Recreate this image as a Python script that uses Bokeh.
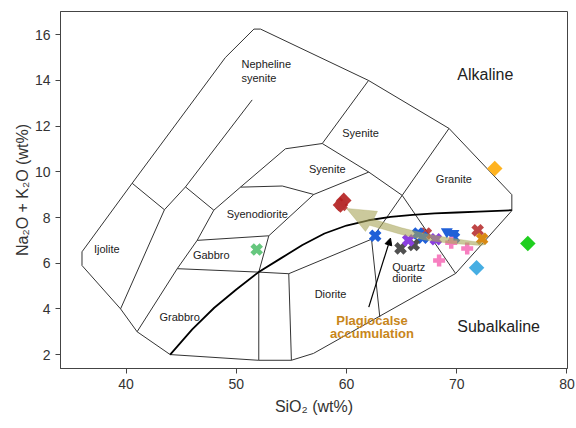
import numpy as np
from bokeh.plotting import figure
from bokeh.models import Range1d, Arrow, NormalHead, FixedTicker, Title
from bokeh.core.properties import value
from bokeh.embed import file_html
from bokeh.resources import INLINE

FONT = "Liberation Sans"

# ---- axes ----
x_ticks = [40, 50, 60, 70, 80]
y_ticks = [2, 4, 6, 8, 10, 12, 14, 16]

# ---- field boundaries (SiO2, Na2O+K2O) ----
outer_line = [(36.0, 6.5), (36.0, 5.9), (39.5, 4.0), (41.0, 3.0), (44.0, 2.0), (52.0, 1.75),
              (55.0, 1.75), (57.0, 2.05), (69.9, 5.55), (75.0, 8.3), (75.0, 9.0), (69.3, 11.9),
              (62.0, 14.0), (52.2, 16.25), (51.6, 16.25), (49.0, 15.0), (40.55, 9.5), (36.0, 6.5)]
ijolite_line = [(40.55, 9.5), (43.48, 8.34), (39.5, 4.0)]
band_line = [(51.44, 13.15), (45.39, 9.34), (43.48, 8.34)]
band_cross = [(45.39, 9.34), (47.96, 8.32)]
gabbro_left = [(54.46, 11.01), (50.38, 9.33), (47.96, 8.32), (46.45, 7.0), (44.64, 5.76), (41.0, 3.0)]
nesy_bottom = [(54.46, 11.01), (57.8, 11.24)]
syenite_line = [(62.0, 14.0), (57.8, 11.24), (62.02, 9.99), (65.05, 8.97), (69.9, 5.55)]
syenodiorite_top = [(50.38, 9.33), (54.17, 9.38), (57.03, 9.01), (62.02, 9.99)]
gabbro_top = [(57.03, 9.01), (52.95, 7.2), (46.45, 7.0)]
gabbro_right = [(52.95, 7.2), (52.04, 5.61), (52.04, 1.75)]
diorite_top = [(44.64, 5.76), (52.04, 5.61), (54.76, 5.54), (62.27, 7.05)]
granite_left = [(69.3, 11.9), (65.05, 8.97), (62.27, 7.05), (63.02, 3.64)]
diorite_left = [(54.76, 5.54), (55.0, 1.75)]

# alkaline / subalkaline divide
divide_x = [44.0, 46.0, 48.0, 50.0, 52.0, 54.0, 56.0, 58.0, 60.0, 62.0, 64.0, 66.0, 68.0, 70.0, 72.0, 75.0]
divide_y = [2.0, 3.1, 4.05, 4.85, 5.6, 6.2, 6.8, 7.3, 7.65, 7.88, 8.03, 8.12, 8.18, 8.22, 8.26, 8.32]

# ---- samples ----
red_dia_x = [59.75, 59.45]
red_dia_y = [8.75, 8.55]
red_x_x = [59.55, 67.2, 71.9]
red_x_y = [8.55, 7.3, 7.44]
blue_x_x = [62.6, 66.5, 66.9, 69.75]
blue_x_y = [7.2, 7.3, 7.12, 7.12]
grey_x_x = [64.9, 66.1]
grey_x_y = [6.65, 6.8]
purple_x_x = [65.6, 68.1]
purple_x_y = [7.0, 7.05]
blue_tri_x = [69.1, 69.7]
blue_tri_y = [7.38, 7.3]
pink_p_x = [68.4, 69.5, 70.95]
pink_p_y = [6.12, 6.9, 6.64]
orange_x_x = [72.3]
orange_x_y = [7.07]
green_x_x = [51.85]
green_x_y = [6.6]
orange_dia_x = [73.45]
orange_dia_y = [10.15]
green_dia_x = [76.45]
green_dia_y = [6.86]
lblue_dia_x = [71.8]
lblue_dia_y = [5.8]

# trend arrow outline
trend_x = [60.0, 62.81, 62.45, 64.99, 67.26, 69.53, 72.16, 72.61, 72.16, 69.35, 67.08, 64.81, 62.09, 61.72]
trend_y = [8.40, 8.27, 7.92, 7.55, 7.28, 7.09, 6.91, 6.82, 6.78, 6.87, 7.02, 7.28, 7.66, 7.39]

# field labels
field_text = ["Syenite", "Syenite", "Granite", "Syenodiorite", "Gabbro", "Ijolite", "Grabbro", "Diorite"]
field_x = [61.28, 58.25, 69.74, 51.9, 47.73, 38.25, 44.86, 58.55]
field_y = [11.68, 10.14, 9.67, 8.17, 6.37, 6.64, 3.64, 4.67]
left_text = ["Nepheline", "syenite", "Quartz", "diorite"]
left_x = [50.47, 50.47, 64.15, 64.15]
left_y = [14.7, 14.13, 5.83, 5.35]

p = figure(width=576, height=428, output_backend="svg", toolbar_location=None,
           x_range=Range1d(34.05, 80.05), y_range=Range1d(1.39, 17.02),
           min_border_left=60, min_border_right=9, min_border_top=11, min_border_bottom=60)
p.background_fill_color = "white"
p.border_fill_color = "white"
p.grid.visible = False
p.outline_line_color = "#444444"
p.outline_line_width = 1

for ax in (p.xaxis[0], p.yaxis[0]):
    ax.axis_line_color = "#444444"
    ax.major_tick_line_color = "#444444"
    ax.major_tick_out = 5
    ax.major_tick_in = 0
    ax.minor_tick_line_color = None
    ax.major_label_text_font = FONT
    ax.major_label_text_font_size = "14px"
    ax.major_label_text_color = "#333333"
p.xaxis.ticker = FixedTicker(ticks=x_ticks)
p.yaxis.ticker = FixedTicker(ticks=y_ticks)
p.xaxis.axis_label = "SiO\u2082 (wt%)"
p.xaxis.axis_label_text_font = FONT
p.xaxis.axis_label_text_font_size = "16px"
p.xaxis.axis_label_text_font_style = "normal"
p.xaxis.axis_label_text_color = "#333333"
p.xaxis.axis_label_standoff = 6

p.add_layout(Title(text="Na\u2082O + K\u2082O (wt%)", align="center", offset=11,
                   text_font=FONT, text_font_size="16px", text_font_style="normal",
                   text_color="#333333", standoff=2), "left")

boundaries = [outer_line, ijolite_line, band_line, band_cross, gabbro_left, nesy_bottom, syenite_line,
              syenodiorite_top, gabbro_top, gabbro_right, diorite_top, granite_left, diorite_left]
p.multi_line(xs=[[pt[0] for pt in b] for b in boundaries], ys=[[pt[1] for pt in b] for b in boundaries],
             line_color="#333333", line_width=1.0)
p.line(divide_x, divide_y, line_color="black", line_width=1.8)

X = np.pi / 4
p.scatter(red_dia_x, red_dia_y, marker="square", angle=X, size=11, fill_color="#B41E1E", line_color=None, fill_alpha=0.9)
p.scatter(red_x_x, red_x_y, marker="plus", angle=X, size=13, fill_color="#B83232", line_color=None, fill_alpha=0.9)
p.scatter(blue_x_x, blue_x_y, marker="plus", angle=X, size=13, fill_color="#2060D8", line_color=None)
p.scatter(grey_x_x, grey_x_y, marker="plus", angle=X, size=13, fill_color="#505050", line_color=None)
p.scatter(purple_x_x, purple_x_y, marker="plus", angle=X, size=13, fill_color="#8A3FE0", line_color=None)
p.scatter(blue_tri_x, blue_tri_y, marker="inverted_triangle", size=12, fill_color="#2060D8", line_color=None)
p.scatter(pink_p_x, pink_p_y, marker="plus", size=12, fill_color="#F77FC0", line_color=None)
p.scatter(orange_x_x, orange_x_y, marker="plus", angle=X, size=13, fill_color="#D98A14", line_color=None)
p.scatter(green_x_x, green_x_y, marker="plus", angle=X, size=13, fill_color="#66C77E", line_color=None)
p.scatter(orange_dia_x, orange_dia_y, marker="square", angle=X, size=11, fill_color="#FFB320", line_color=None)
p.scatter(green_dia_x, green_dia_y, marker="square", angle=X, size=11, fill_color="#1FCF1F", line_color=None)
p.scatter(lblue_dia_x, lblue_dia_y, marker="square", angle=X, size=11, fill_color="#46AEE3", line_color=None)

p.patch(trend_x, trend_y, fill_color="#A8A55A", fill_alpha=0.6, line_color="#A8A55A", line_alpha=0.6, line_width=0.5)

p.text(field_x, field_y, text=field_text, text_font=value(FONT), text_font_size="11px",
       text_align="center", text_baseline="middle", text_color="#222222")
p.text(left_x, left_y, text=left_text, text_font=value(FONT), text_font_size="11px",
       text_align="left", text_baseline="middle", text_color="#222222")
p.text([72.6], [14.26], text=["Alkaline"], text_font=value(FONT), text_font_size="16px",
       text_align="center", text_baseline="middle", text_color="#222222")
p.text([70.05], [3.24], text=["Subalkaline"], text_font=value(FONT), text_font_size="16px",
       text_align="left", text_baseline="middle", text_color="#222222")
p.text([62.31, 62.31], [3.48, 2.92], text=["Plagiocalse", "accumulation"], text_font=value(FONT),
       text_font_size="13px", text_font_style="bold", text_align="center", text_baseline="middle",
       text_color="#C8861A")

p.add_layout(Arrow(end=NormalHead(size=7, fill_color="black", line_color="black"),
                   x_start=62.02, y_start=4.08, x_end=63.99, y_end=7.1,
                   line_color="black", line_width=1.2))

open("out.html", "w").write(file_html(p, INLINE))
